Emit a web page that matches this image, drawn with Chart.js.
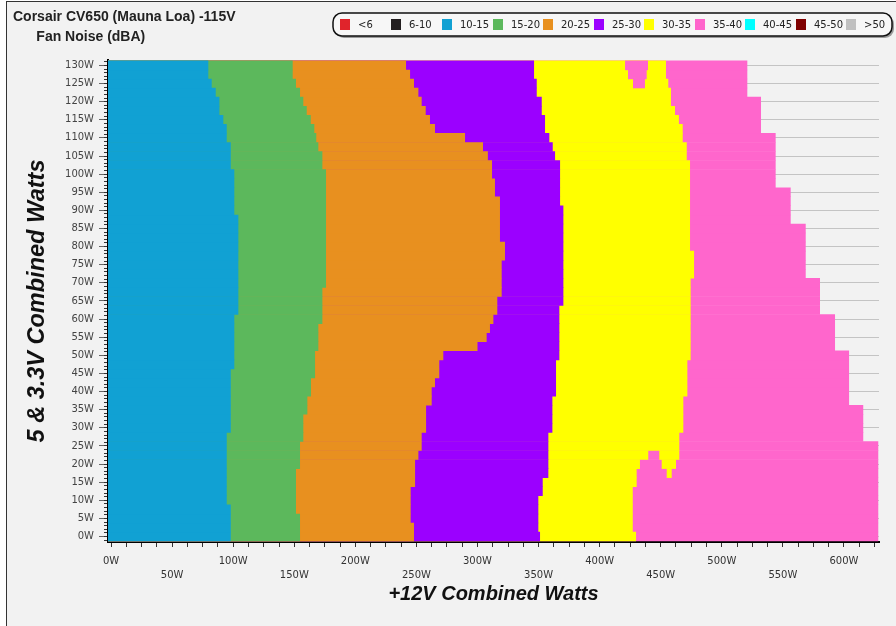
<!DOCTYPE html>
<html><head><meta charset="utf-8">
<script src="https://cdn.jsdelivr.net/npm/chart.js@4.4.1/dist/chart.umd.min.js"></script>
<style>
html,body{margin:0;padding:0;background:#fff;overflow:hidden;width:896px;height:626px;}
#frame{position:absolute;left:6px;top:1px;width:889px;height:624px;border-left:1px solid #333;border-top:1px solid #333;background:#f2f2f2;}
#wrap{position:absolute;left:0;top:0;width:896px;height:626px;}
</style></head><body>
<div id="frame"></div>
<div id="wrap"><canvas id="c" width="896" height="626"></canvas></div>
<script>
// Rows: 5V & 3.3V combined load (W)
const rowsW = [0,2.5,5,7.5,10,12.5,15,17.5,20,22.5,25,27.5,30,32.5,35,37.5,40,42.5,45,47.5,50,52.5,55,57.5,60,62.5,65,67.5,70,72.5,75,77.5,80,82.5,85,87.5,90,92.5,95,97.5,100,102.5,105,107.5,110,112.5,115,117.5,120,122.5,125,127.5,130];
// +12V load (W) where each noise band ends, per row
const blueEnd = [98,98,98,98,94.7,94.7,94.7,94.7,94.7,94.7,94.7,94.7,98,98,98,98,98,98,98,100.9,100.9,100.9,100.9,100.9,100.9,104.2,104.2,104.2,104.2,104.2,104.2,104.2,104.2,104.2,104.2,104.2,100.9,100.9,100.9,100.9,100.9,98,98,98,94.7,94.7,91.9,88.7,88.7,85.7,82.4,79.6,79.6];
const greenEnd = [154.7,154.7,154.7,151.4,151.4,151.4,151.4,151.4,154.7,154.7,154.7,157.4,157.4,157.4,160.7,160.7,163.7,163.7,167,167,167,169.7,169.7,169.7,173,173,173,173,176,176,176,176,176,176,176,176,176,176,176,176,176,173,173,169.7,168,166.4,163.5,160.2,157.4,154.7,151.4,148.7,148.7];
const orangeEnd = [248,248,245.3,245.3,245.3,245.3,248.9,248.9,248.9,251.6,254.3,254.3,257.9,257.9,257.9,262.5,262.5,265.2,268.7,268.7,272,300,307.5,310.2,313,316.2,316.2,319.8,319.8,319.8,319.8,322.5,322.5,318.4,318.4,318.4,318.4,318.4,314.3,314.3,311.9,311.9,308.5,304.5,289.8,265.2,261.1,257.6,254.3,251.6,248,244.8,241.5];
const purpleEnd = [351.2,349.8,349.8,349.8,349.8,353.4,353.4,358,358,358,358,358,361.3,361.3,361.3,361.3,364.3,364.3,364.3,364.3,367,367,367,367,367,367,370.3,370.3,370.3,370.3,370.3,370.3,370.3,370.3,370.3,370.3,370.3,367.6,367.6,367.6,367.6,367.6,363.5,361.6,358.8,355.3,355.3,352.6,352.6,348.5,348.5,346.3,346.3];
const yellowEnd = [429.8,427.1,427.1,427.1,427.1,427.1,430.3,430.3,433,439.8,465.2,465.2,468.5,468.5,468.5,468.5,471.8,471.8,471.8,471.8,474.5,474.5,474.5,474.5,474.5,474.5,474.5,474.5,474.5,477.3,477.3,477.3,474,474,474,474,474,474,474,474,474,474,471.3,471.3,468,468,464.9,461.7,458.4,458.4,456.2,454.3,454.3];
const pinkEnd = [628.1,628.1,628.1,628.1,628.1,628.1,628.1,628.1,628.1,628.1,628.1,615.8,615.8,615.8,615.8,604.2,604.2,604.2,604.2,604.2,604.2,592.7,592.7,592.7,592.7,580.4,580.4,580.4,580.4,568.7,568.7,568.7,568.7,568.7,568.7,556.4,556.4,556.4,556.4,544.1,544.1,544.1,544.1,544.1,544.1,532.1,532.1,532.1,532.1,520.9,520.9,520.9,520.9];
// Islands
const pinkIslandRows = [125,127.5,130];
const pinkIslandFrom = [427.3,423.2,420.8];
const pinkIslandTo   = [437.1,438.5,439.6];
const yellowIslandRows = [17.5,20,22.5];
const yellowIslandFrom = [454.9,450.8,448.8];
const yellowIslandTo   = [459,462.5,465.2];
// Legend
const legendLabels = ['<6','6-10','10-15','15-20','20-25','25-30','30-35','35-40','40-45','45-50','>50'];
const legendColors = ['#e0242b','#231f20','#11a1d3','#5cb85c','#e8901f','#9b00ff','#ffff00','#ff66cc','#00ffff','#7f0000','#c0c0c0'];
const yTickValues = [0,5,10,15,20,25,30,35,40,45,50,55,60,65,70,75,80,85,90,95,100,105,110,115,120,125,130];
const xTickLabelsRow1 = [0,100,200,300,400,500,600];
const xTickLabelsRow2 = [50,150,250,350,450,550];

const X_MIN = -2.5, X_MAX = 628.7, Y_MIN = -1.5, Y_MAX = 131.5;
const BLUE='#11a1d3', GREEN='#5cb85c', ORANGE='#e8901f', PURPLE='#9b00ff', YELLOW='#ffff00', PINK='#ff66cc';

function rowsOf(ends){ return rowsW.map((w,i)=>({y:w, x:ends[i]})); }
function islands(rows, from, to){ return rows.map((w,i)=>({y:w, x:[from[i], to[i]]})); }

const minorY = [];
for (let v = -1; v <= 131; v++) minorY.push(v);

const legendPlugin = {
  id: 'noiseLegend',
  afterDraw(chart) {
    const ctx = chart.ctx;
    const bx = 333, by = 13, bw = 559, bh = 23, r = 9;
    ctx.save();
    ctx.fillStyle = '#9a9a9a';
    ctx.beginPath(); ctx.roundRect(bx+2, by+2, bw, bh, r); ctx.fill();
    ctx.fillStyle = '#f7f7f7';
    ctx.beginPath(); ctx.roundRect(bx, by, bw, bh, r); ctx.fill();
    ctx.lineWidth = 1.5; ctx.strokeStyle = '#111'; ctx.stroke();
    const xs = [340,391,442,493,543,594,644,695,745,796,846];
    ctx.font = '10px "DejaVu Sans"';
    ctx.textBaseline = 'middle';
    ctx.textAlign = 'left';
    for (let i = 0; i < legendLabels.length; i++) {
      ctx.fillStyle = legendColors[i];
      ctx.fillRect(xs[i], 19, 10, 11);
      ctx.fillStyle = '#222';
      ctx.fillText(legendLabels[i], xs[i] + 18, 25);
    }
    ctx.restore();
  }
};

const common = {xAxisID:'x', yAxisID:'y', borderWidth:0, barPercentage:1.06, categoryPercentage:1, grouped:false};

new Chart(document.getElementById('c'), {
  type: 'bar',
  data: {
    datasets: [
      Object.assign({label:'35-40', data: islands(pinkIslandRows, pinkIslandFrom, pinkIslandTo), backgroundColor: PINK}, common),
      Object.assign({label:'30-35', data: islands(yellowIslandRows, yellowIslandFrom, yellowIslandTo), backgroundColor: YELLOW}, common),
      Object.assign({label:'10-15', data: rowsOf(blueEnd), backgroundColor: BLUE, base: X_MIN}, common),
      Object.assign({label:'15-20', data: rowsOf(greenEnd), backgroundColor: GREEN, base: X_MIN}, common),
      Object.assign({label:'20-25', data: rowsOf(orangeEnd), backgroundColor: ORANGE, base: X_MIN}, common),
      Object.assign({label:'25-30', data: rowsOf(purpleEnd), backgroundColor: PURPLE, base: X_MIN}, common),
      Object.assign({label:'30-35', data: rowsOf(yellowEnd), backgroundColor: YELLOW, base: X_MIN}, common),
      Object.assign({label:'35-40', data: rowsOf(pinkEnd), backgroundColor: PINK, base: X_MIN}, common)
    ]
  },
  options: {
    indexAxis: 'y',
    responsive: false,
    devicePixelRatio: 1,
    animation: false,
    events: [],
    layout: { padding: { left: 13, right: 17, top: 0, bottom: 0 } },
    plugins: {
      legend: { display: false },
      tooltip: { enabled: false },
      title: {
        display: true, align: 'start',
        text: ['Corsair CV650 (Mauna Loa) -115V', '      Fan Noise (dBA)'],
        color: '#222',
        font: { family: 'Liberation Sans', size: 14, weight: 'bold', lineHeight: 1.37 },
        padding: { top: 7.9, bottom: 13.7 }
      }
    },
    scales: {
      x: {
        type: 'linear', position: 'bottom', min: X_MIN, max: X_MAX, z: 1, offset: false,
        afterFit(s) { s.height = 84; },
        grid: { drawOnChartArea: false, drawTicks: true, tickLength: 5, tickColor: '#333', offset: false },
        border: { display: true, color: '#000', width: 2 },
        ticks: {
          stepSize: 12.5, autoSkip: false, includeBounds: false, maxRotation: 0, minRotation: 0,
          padding: 7, color: '#333',
          font: { family: 'DejaVu Sans', size: 10, lineHeight: 1.4 },
          callback(v) {
            if (xTickLabelsRow1.includes(v)) return v + 'W';
            if (xTickLabelsRow2.includes(v)) return ['', v + 'W'];
            return '';
          }
        },
        title: {
          display: true, text: '+12V Combined Watts', color: '#111',
          font: { family: 'Liberation Sans', size: 20, weight: 'bold', style: 'italic', lineHeight: 1.2 },
          padding: { top: 0, bottom: 20 }
        }
      },
      y: {
        type: 'linear', position: 'left', min: Y_MIN, max: Y_MAX, weight: 1, z: 0, offset: false,
        afterFit(s) { s.width = 95; },
        afterBuildTicks(s) { s.ticks = yTickValues.map(v => ({ value: v })); },
        grid: { drawOnChartArea: true, drawTicks: true, tickLength: 9, color: '#c4c4c4', tickColor: '#666', offset: false },
        border: { display: false },
        ticks: {
          autoSkip: false, padding: 5, color: '#444',
          font: { family: 'DejaVu Sans', size: 10 },
          callback(v) { return v + 'W'; }
        },
        title: {
          display: true, text: '5 & 3.3V Combined Watts', color: '#111',
          font: { family: 'Liberation Sans', size: 23.5, weight: 'bold', style: 'italic', lineHeight: 1.2 },
          padding: { top: 10.9, bottom: 0 }
        }
      },
      y2: {
        type: 'linear', axis: 'y', position: 'left', min: Y_MIN, max: Y_MAX, weight: 0, z: 1, offset: false,
        afterFit(s) { s.width = 0; },
        afterBuildTicks(s) { s.ticks = minorY.map(v => ({ value: v })); },
        grid: { drawOnChartArea: false, drawTicks: true, tickLength: 4, tickColor: '#333', offset: false },
        border: { display: true, color: '#000', width: 2 },
        ticks: { display: false }
      }
    }
  },
  plugins: [legendPlugin]
});
</script>
</body></html>
